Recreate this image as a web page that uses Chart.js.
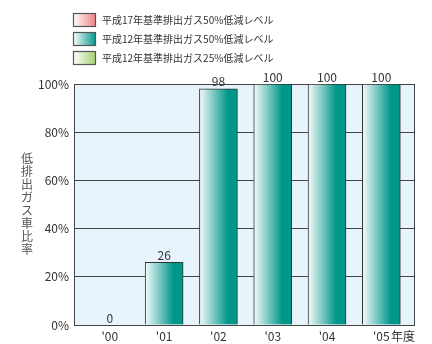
<!DOCTYPE html>
<html>
<head>
<meta charset="utf-8">
<script src="https://cdn.jsdelivr.net/npm/chart.js@4"></script>
<style>
  html, body { margin: 0; padding: 0; background: #ffffff; }
  #wrap { width: 432px; height: 344px; }
</style>
</head>
<body>
<div id="wrap"><canvas id="playground" width="432" height="344"></canvas></div>
<script>
// low-emission vehicle ratio
const years = ["'00", "'01", "'02", "'03", "'04", "'05"]
const ratio = [0, 26, 98, 100, 100, 100]
const yTicks = [0, 20, 40, 60, 80, 100]
const legendLabels = [
  '平成17年基準排出ガス50%低減レベル',
  '平成12年基準排出ガス50%低減レベル',
  '平成12年基準排出ガス25%低減レベル',
]
const legendColors = ['#ef8080', '#00968a', '#a6d070']
const yTitle = '低排出ガス車比率'
const xUnit = '年度'

const FONT = "'Noto Sans CJK JP', 'Noto Sans', sans-serif"

const barGradient = (chart, x, w, end) => {
  const g = chart.ctx.createLinearGradient(x - w / 2, 0, x + w / 2, 0)
  g.addColorStop(0, '#f6fbfb')
  g.addColorStop(0.75, end)
  g.addColorStop(1, end)
  return g
}

const extras = {
  id: 'extras',
  beforeDraw(chart) {
    const { ctx, chartArea: a } = chart
    ctx.save()
    ctx.fillStyle = '#e7f4fc'
    ctx.fillRect(a.left, a.top, a.right - a.left, a.bottom - a.top)
    ctx.restore()
  },
  beforeDatasetsDraw(chart) {
    const { ctx, chartArea: a } = chart
    ctx.save()
    ctx.strokeStyle = '#444444'
    ctx.lineWidth = 1
    ctx.strokeRect(a.left + 0.5, a.top + 0.5, a.right - a.left - 1, a.bottom - a.top)
    ctx.restore()
  },
  afterDatasetsDraw(chart) {
    const { ctx } = chart
    ctx.save()
    // value labels
    ctx.font = '12px ' + FONT
    ctx.fillStyle = '#333333'
    ctx.textAlign = 'center'
    ctx.textBaseline = 'bottom'
    chart.getDatasetMeta(0).data.forEach((bar, i) => {
      ctx.fillText(String(ratio[i]), bar.x, bar.y - 1)
    })
    // legend
    legendLabels.forEach((t, i) => {
      const y = 13 + i * 19
      const g = ctx.createLinearGradient(73, 0, 96, 0)
      g.addColorStop(0, '#ffffff')
      g.addColorStop(1, legendColors[i])
      ctx.fillStyle = g
      ctx.fillRect(73, y, 23, 14)
      ctx.strokeStyle = '#555555'
      ctx.lineWidth = 1.2
      ctx.strokeRect(73.5, y + 0.5, 22, 13)
      ctx.fillStyle = '#333333'
      ctx.font = '10px ' + FONT
      ctx.textAlign = 'left'
      ctx.textBaseline = 'middle'
      ctx.fillText(t, 102, y + 7)
    })
    // y title, stacked
    ctx.font = '12px ' + FONT
    ctx.fillStyle = '#555555'
    ctx.textAlign = 'center'
    ctx.textBaseline = 'top'
    Array.from(yTitle).forEach((c, i) => {
      ctx.fillText(c, 27, 152 + i * 13)
    })
    // unit
    ctx.font = '12px ' + FONT
    ctx.fillStyle = '#333333'
    ctx.textAlign = 'left'
    ctx.textBaseline = 'middle'
    ctx.fillText(xUnit, 391, 336)
    ctx.restore()
  },
}

const plotChart = () => {
  const ctx = document.getElementById('playground').getContext('2d')
  const myChart = new Chart(ctx, {
    type: 'bar',
    data: {
      datasets: [
        {
          label: legendLabels[1],
          data: ratio.map((v, i) => ({ x: i, y: v })),
          backgroundColor: (c) => {
            const chart = c.chart
            if (!chart.chartArea || !chart.scales.x) return legendColors[1]
            const x = chart.scales.x.getPixelForValue(c.parsed ? c.parsed.x : c.dataIndex)
            return barGradient(chart, x, 38, legendColors[1])
          },
          borderColor: '#333333',
          borderWidth: 1,
          borderSkipped: 'bottom',
          barThickness: 38,
        },
      ],
    },
    options: {
      responsive: false,
      animation: false,
      layout: { padding: { top: 84, left: 0, right: 17, bottom: 0 } },
      scales: {
        x: {
          type: 'linear',
          offset: false,
          min: -0.66,
          max: 5.62,
          afterBuildTicks: (s) => {
            s.ticks = years.map((_, i) => ({ value: i }))
          },
          afterFit: (s) => {
            s.height = 19
          },
          grid: { display: false, drawTicks: false },
          border: { display: false },
          ticks: {
            autoSkip: false,
            maxRotation: 0,
            padding: 4,
            color: '#333333',
            font: { family: FONT, size: 12 },
            callback: (v) => years[v],
          },
        },
        y: {
          min: 0,
          max: 100,
          afterBuildTicks: (s) => {
            s.ticks = yTicks.map((v) => ({ value: v }))
          },
          afterFit: (s) => {
            s.width = 74
          },
          grid: { color: '#444444', lineWidth: 1, drawTicks: false },
          border: { display: false },
          ticks: {
            padding: 5,
            color: '#333333',
            font: { family: FONT, size: 12 },
            callback: (v) => v + '%',
          },
        },
      },
      plugins: {
        legend: { display: false },
        tooltip: { enabled: false },
      },
    },
    plugins: [extras],
  })
  return myChart
}

plotChart()
</script>
</body>
</html>
